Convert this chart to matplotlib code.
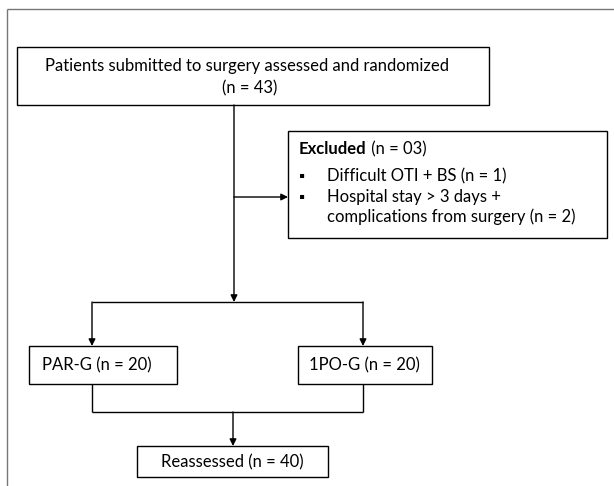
import matplotlib.pyplot as plt
from matplotlib.patches import Rectangle

# flowchart text
top_label = ["Patients submitted to surgery assessed and randomized", "(n = 43)"]
excluded_title = "Excluded"
excluded_n = " (n = 03)"
excluded_items = ["Difficult OTI + BS (n = 1)", "Hospital stay > 3 days +\ncomplications from surgery (n = 2)"]
group_labels = ["PAR-G (n = 20)", "1PO-G (n = 20)"]
final_label = "Reassessed (n = 40)"

W, H = 614, 486
fig = plt.figure(figsize=(W / 100, H / 100), dpi=100)
ax = fig.add_axes([0, 0, 1, 1])
ax.set_xlim(0, W)
ax.set_ylim(H, 0)
ax.axis('off')
plt.rcParams['font.family'] = ['Lato', 'DejaVu Sans']
FS = 12


def box(x0, y0, x1, y1):
    ax.add_patch(Rectangle((x0, y0), x1 - x0, y1 - y0, fill=False, edgecolor='black', lw=1.0))


def arrow(x0, y0, x1, y1):
    ax.annotate('', xy=(x1, y1), xytext=(x0, y0),
                arrowprops=dict(arrowstyle='-|>', color='black', lw=1.0, mutation_scale=10,
                                shrinkA=0, shrinkB=0))


def line(xs, ys, color='black'):
    ax.plot(xs, ys, color=color, lw=1.0, solid_capstyle='butt')


# outer frame (top and left edges only visible)
line([6.5, W + 5], [9, 9], color='#777777')
line([6.5, 6.5], [9, H + 5], color='#777777')

# top box
box(17, 47, 489, 105)
ax.text(247, 66, top_label[0], ha='center', va='center', fontsize=FS)
ax.text(250, 88, top_label[1], ha='center', va='center', fontsize=FS)

# main stem
cx = 234
arrow(cx, 105, cx, 302)
arrow(cx, 197, 288, 197)

# excluded box
box(288, 131, 607, 238)
t = ax.text(299, 149, excluded_title, ha='left', va='center', fontsize=FS, fontweight='bold')
fig.canvas.draw()
bb = t.get_window_extent().transformed(ax.transData.inverted())
ax.text(bb.x1, 149, excluded_n, ha='left', va='center', fontsize=FS)
ys = [177, 198]
for y, item in zip(ys, excluded_items):
    ax.text(302, y, '\u25aa', ha='center', va='center', fontsize=11)
    ax.text(327, y - 9, item, ha='left', va='top', fontsize=FS, linespacing=1.25)

# split to groups
lx, rx = 92, 363
line([lx, rx], [302, 302])
arrow(lx, 302, lx, 346)
arrow(rx, 302, rx, 346)

box(29, 346, 177, 384)
ax.text(42, 365, group_labels[0], ha='left', va='center', fontsize=FS)
box(298, 346, 432, 384)
ax.text(309, 365, group_labels[1], ha='left', va='center', fontsize=FS)

# merge
line([lx, lx], [384, 412])
line([rx, rx], [384, 412])
line([lx, rx], [412, 412])
arrow(233, 412, 233, 446)

box(137, 446, 328, 477)
ax.text(232, 462, final_label, ha='center', va='center', fontsize=FS)

fig.savefig('out.png', dpi=100)
